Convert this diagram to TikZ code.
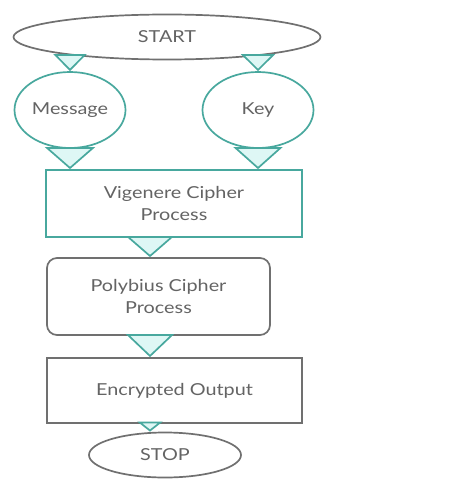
\documentclass[tikz,border=0pt]{standalone}
\usepackage{fontspec}
\setmainfont{Lato}[FakeStretch=1.2]
\usepackage{xcolor}
\usetikzlibrary{shapes.geometric,arrows.meta}
\definecolor{lineteal}{RGB}{72,168,158}
\definecolor{linegray}{RGB}{112,112,112}
\definecolor{textgray}{RGB}{100,100,100}
\definecolor{tipfill}{RGB}{222,247,245}

\begin{document}
\begin{tikzpicture}[x=1pt, y=-1pt, line width=1.7pt,
    font=\fontsize{16.5}{22}\selectfont, text=textgray,
    term/.style={draw=linegray, ellipse, inner sep=0pt},
    data/.style={draw=lineteal, ellipse, inner sep=0pt, minimum width=111, minimum height=76},
    box/.style={align=center, inner sep=0pt},
    flow/.style 2 args={draw=lineteal, -{Triangle[length=#1pt, width=#2pt, fill=tipfill]}}]

    \useasboundingbox[fill=white] (0,0) rectangle (450,481);

    \node[term, minimum width=307, minimum height=45] (start) at (167,37) {START};
    \node[data] (msg) at (70,110) {Message};
    \node[data] (key) at (258,110) {Key};
    \node[box, draw=lineteal, minimum width=256, minimum height=67] (vig) at (174,203.5) {Vigenere Cipher\\Process};
    \node[box, draw=linegray, rounded corners=10pt, minimum width=223, minimum height=77] (poly) at (158.5,296.5) {Polybius Cipher\\Process};
    \node[box, draw=linegray, minimum width=255, minimum height=65] (enc) at (174.5,390.5) {Encrypted Output};
    \node[term, minimum width=152, minimum height=45] (stop) at (165,455) {STOP};
    \coordinate (axis) at (150,0);

    \draw[flow={17}{33}] (start.south -| msg.north) -- (msg.north);
    \draw[flow={17}{34}] (start.south -| key.north) -- (key.north);
    \draw[flow={22}{50}] (msg.south) -- (msg.south |- vig.north);
    \draw[flow={22}{49}] (key.south) -- (key.south |- vig.north);
    \draw[flow={21}{48}] (vig.south -| axis) -- (poly.north -| axis);
    \draw[flow={23}{48}] (poly.south -| axis) -- (enc.north -| axis);
    \draw[flow={10}{25}] (enc.south -| axis) -- (stop.north -| axis);
\end{tikzpicture}
\end{document}
